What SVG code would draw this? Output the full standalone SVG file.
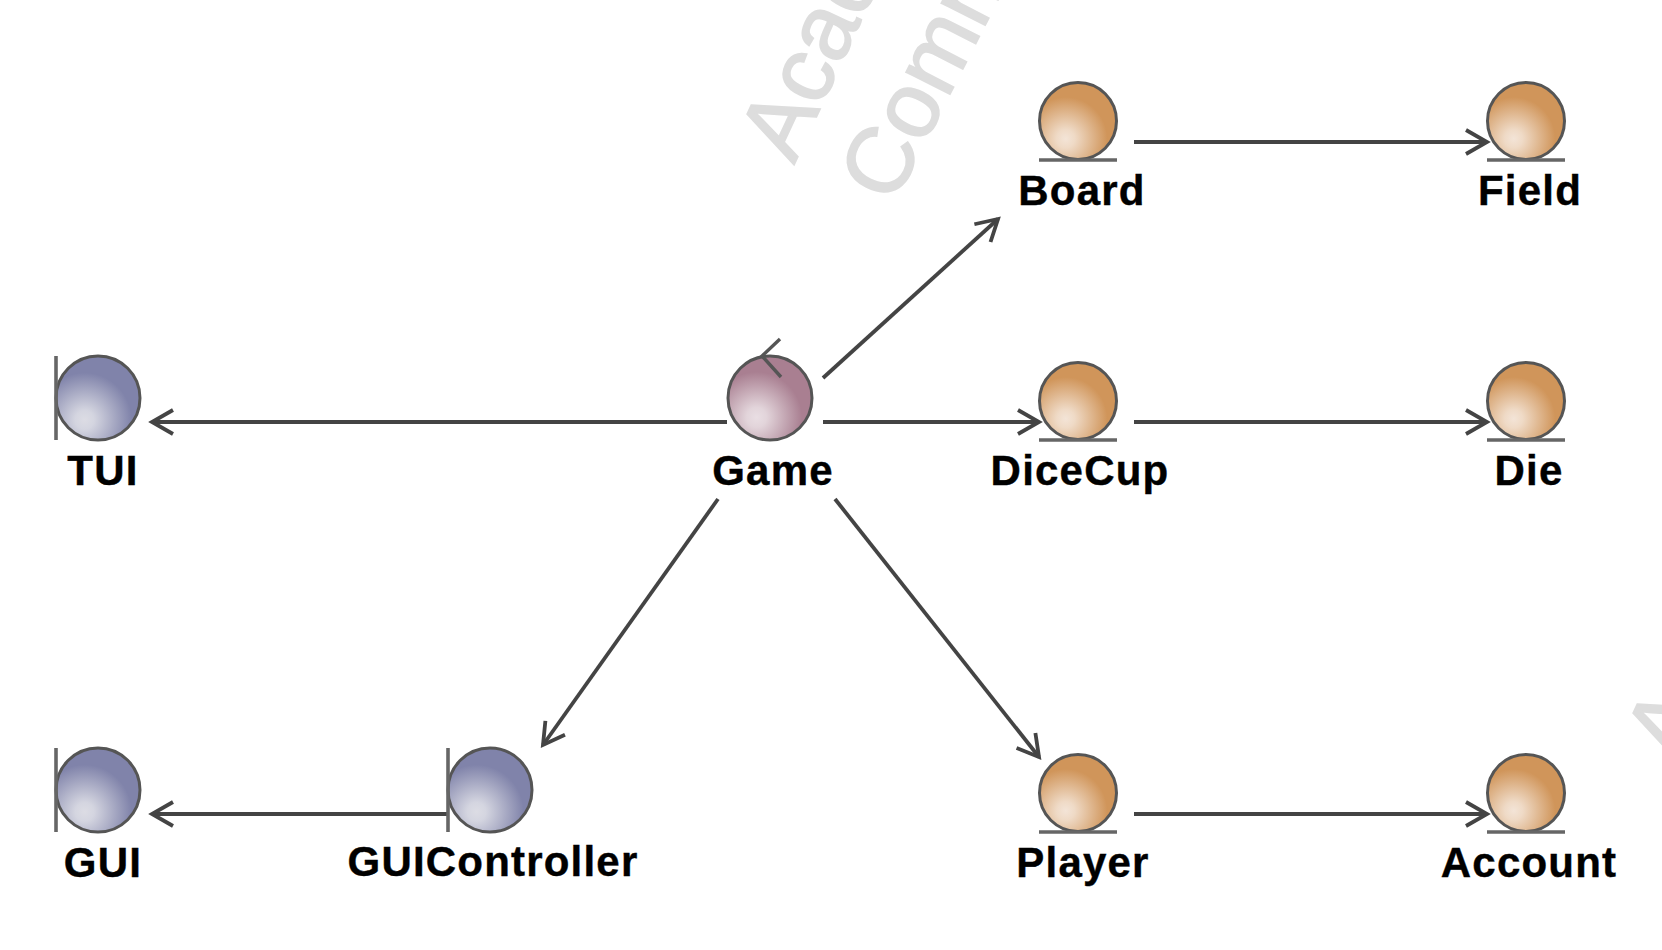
<svg xmlns="http://www.w3.org/2000/svg" width="1662" height="950" viewBox="0 0 1662 950">
<style>
text{font-family:"Liberation Sans",Arial,sans-serif}
.lab{font-size:42px;font-weight:700;letter-spacing:1.2px;text-anchor:middle;fill:#000;stroke:#000;stroke-width:.4px}
.wm{font-size:93px;fill:#ddd;stroke:#ddd;stroke-width:1.6px}
.c{stroke:#555;stroke-width:3}
.bar{stroke:#666;stroke-width:3.6;fill:none}
.e{fill:url(#ge)}.b{fill:url(#gb)}.g{fill:url(#gg)}
.con{stroke:#444;stroke-width:3.8;fill:none;marker-end:url(#arrow)}
</style>
<defs>
<marker id="arrow" markerUnits="userSpaceOnUse" markerWidth="30" markerHeight="34" refX="24" refY="15" orient="auto" overflow="visible"><path d="M3,3 L24,15 L3,27" fill="none" stroke="#444" stroke-width="3.8"/></marker>
<radialGradient id="ge" cx="0.34" cy="0.73" r="0.54"><stop offset="0" stop-color="#f3e4d7"/><stop offset="0.22" stop-color="#efdac6"/><stop offset="1" stop-color="#d0955a"/></radialGradient>
<radialGradient id="gb" cx="0.34" cy="0.76" r="0.56"><stop offset="0" stop-color="#dcdce4"/><stop offset="0.2" stop-color="#d4d5e0"/><stop offset="1" stop-color="#8083aa"/></radialGradient>
<radialGradient id="gg" cx="0.34" cy="0.73" r="0.54"><stop offset="0" stop-color="#e9dee3"/><stop offset="0.22" stop-color="#e2d4da"/><stop offset="1" stop-color="#a97f91"/></radialGradient>
</defs>
<g id="watermark">
<text class="wm" transform="translate(794 165) rotate(-65)">Acad</text>
<text class="wm" transform="translate(893 206) rotate(-63)">Comm</text>
<text class="wm" transform="translate(1680 764) rotate(-65)">A</text>
</g>
<g id="connectors">
<path class="con" d="M727,422H152"/>
<path class="con" d="M823,422H1039"/>
<path class="con" d="M823,378L998,219"/>
<path class="con" d="M718,499L543,745"/>
<path class="con" d="M835,499L1039,757"/>
<path class="con" d="M1134,142H1487"/>
<path class="con" d="M1134,422H1487"/>
<path class="con" d="M1134,814H1487"/>
<path class="con" d="M447,814H152"/>
</g>
<g id="TUI"><circle class="c b" cx="98" cy="398" r="42"/><path class="bar" d="M56,356V440"/><text class="lab" x="103" y="485">TUI</text></g>
<g id="GUI"><circle class="c b" cx="98" cy="790" r="42"/><path class="bar" d="M56,748V832"/><text class="lab" x="103" y="877">GUI</text></g>
<g id="GUIController"><circle class="c b" cx="490" cy="790" r="42"/><path class="bar" d="M448,748V832"/><text class="lab" x="493" y="876">GUIController</text></g>
<g id="Game"><circle class="c g" cx="770" cy="398" r="42"/><path d="M780,339L762,356L781,377" fill="none" stroke="#555" stroke-width="3.4"/><text class="lab" x="773" y="485">Game</text></g>
<g id="Board"><circle class="c e" cx="1078" cy="121" r="38.5"/><path class="bar" d="M1039,160H1117"/><text class="lab" x="1082" y="205">Board</text></g>
<g id="Field"><circle class="c e" cx="1526" cy="121" r="38.5"/><path class="bar" d="M1487,160H1565"/><text class="lab" x="1530" y="205">Field</text></g>
<g id="DiceCup"><circle class="c e" cx="1078" cy="401" r="38.5"/><path class="bar" d="M1039,440H1117"/><text class="lab" x="1080" y="485">DiceCup</text></g>
<g id="Die"><circle class="c e" cx="1526" cy="401" r="38.5"/><path class="bar" d="M1487,440H1565"/><text class="lab" x="1529" y="485">Die</text></g>
<g id="Player"><circle class="c e" cx="1078" cy="793" r="38.5"/><path class="bar" d="M1039,832H1117"/><text class="lab" x="1083" y="877" letter-spacing="0.6">Player</text></g>
<g id="Account"><circle class="c e" cx="1526" cy="793" r="38.5"/><path class="bar" d="M1487,832H1565"/><text class="lab" x="1529" y="877">Account</text></g>
</svg>
